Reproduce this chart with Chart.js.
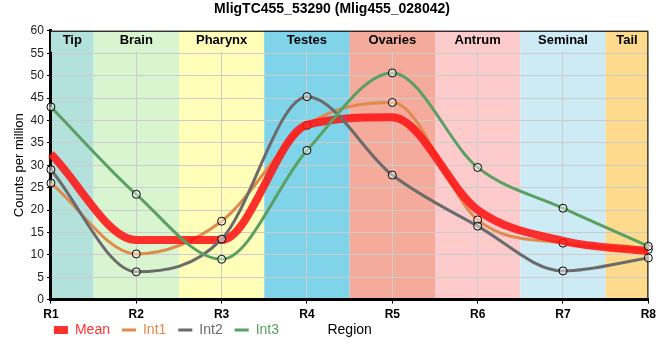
<!DOCTYPE html>
<html>
<head>
<meta charset="utf-8">
<script src="https://cdn.jsdelivr.net/npm/chart.js@4/dist/chart.umd.min.js"></script>
<style>
  html, body { margin: 0; padding: 0; background: #fff; }
  #wrap { width: 660px; height: 360px; }
</style>
</head>
<body>
<div id="wrap"><canvas id="regionChart" width="660" height="360"></canvas></div>
<script>
// values
const regions = ['R1', 'R2', 'R3', 'R4', 'R5', 'R6', 'R7', 'R8'];
const meanVals = [32.5, 13.3, 13.3, 39.0, 40.7, 20.0, 13.1, 10.8];
const int1Vals = [26.0, 10.2, 17.5, 38.9, 44.0, 17.8, 12.6, 11.2];
const int2Vals = [29.0, 6.2, 13.5, 45.3, 27.8, 16.4, 6.4, 9.3];
const int3Vals = [43.0, 23.5, 9.0, 33.3, 50.6, 29.5, 20.4, 11.9];

// tissue bands, one per region
const bandNames = ['Tip', 'Brain', 'Pharynx', 'Testes', 'Ovaries', 'Antrum', 'Seminal', 'Tail'];
const bandColors = ['#b3e2dd', '#d9f5d0', '#fefeb8', '#80d4ea', '#f4ab9c', '#fdcbcb', '#cdebf5', '#fdda8c'];

const xTitle = 'Region';
const font = "'Liberation Sans', Arial, sans-serif";

const bandPlugin = {
	id: 'bands',
	afterUpdate(chart) {
		// pull the legend up onto the same row as the axis title
		const lg = chart.legend;
		const dy = 15, dx = 9;
		lg.top -= dy;
		lg.bottom -= dy;
		lg.left -= dx;
		lg.right -= dx;
		lg.legendHitBoxes.forEach(h => {
			h.top -= dy;
			h.left -= dx;
		});
	},
	beforeDraw(chart) {
		const { ctx, chartArea: a, scales: { x } } = chart;
		ctx.save();
		bandNames.forEach((name, i) => {
			let x0 = Math.max(x.getPixelForValue(i - 0.5), a.left);
			let x1 = Math.min(x.getPixelForValue(i + 0.5), a.right);
			ctx.fillStyle = bandColors[i];
			ctx.fillRect(x0, a.top, x1 - x0, a.bottom - a.top);
		});
		ctx.restore();
	},
	beforeDatasetsDraw(chart) {
		const { ctx, chartArea: a, scales: { x } } = chart;
		ctx.save();
		// label strip covers the grid at the top
		bandNames.forEach((name, i) => {
			let x0 = Math.max(x.getPixelForValue(i - 0.5), a.left);
			let x1 = Math.min(x.getPixelForValue(i + 0.5), a.right);
			ctx.fillStyle = bandColors[i];
			ctx.fillRect(x0, a.top, x1 - x0, 21);
			ctx.fillStyle = '#000';
			ctx.font = 'bold 13px ' + font;
			ctx.textAlign = 'center';
			ctx.textBaseline = 'middle';
			ctx.fillText(name, (x0 + x1) / 2, a.top + 10);
		});
		// thin frame on top and right
		ctx.strokeStyle = '#000';
		ctx.lineWidth = 1;
		ctx.beginPath();
		ctx.moveTo(a.left, a.top + 0.5);
		ctx.lineTo(a.right - 0.5, a.top + 0.5);
		ctx.lineTo(a.right - 0.5, a.bottom);
		ctx.stroke();
		ctx.restore();
	},
	afterDraw(chart) {
		// x axis title sits on the legend row
		const { ctx, chartArea: a } = chart;
		const box = chart.legend.legendHitBoxes[0];
		if (!box) return;
		ctx.save();
		ctx.fillStyle = '#000';
		ctx.font = '14px ' + font;
		ctx.textAlign = 'center';
		ctx.textBaseline = 'middle';
		ctx.fillText(xTitle, (a.left + a.right) / 2, box.top + box.height / 2);
		ctx.restore();
	}
};

const markerFill = 'rgba(255,255,255,0.45)';

function intSet(label, data, color, order) {
	return {
		label: label,
		data: data,
		borderColor: color,
		backgroundColor: color,
		borderWidth: 3,
		cubicInterpolationMode: 'monotone',
		pointRadius: 4,
		pointBorderColor: '#000',
		pointBackgroundColor: markerFill,
		pointBorderWidth: 1,
		clip: false,
		order: order
	};
}

new Chart(
	document.getElementById('regionChart'),
	{
		type: 'line',
		data: {
			labels: regions,
			datasets: [
				{
					label: 'Mean',
					data: meanVals,
					borderColor: 'rgba(255,20,20,0.88)',
					backgroundColor: 'rgba(255,20,20,0.88)',
					borderWidth: 8,
					cubicInterpolationMode: 'monotone',
					pointRadius: 0,
					clip: false,
					order: 2
				},
				intSet('Int1', int1Vals, '#e08a4c', 3),
				intSet('Int2', int2Vals, '#6b6b6b', 1),
				intSet('Int3', int3Vals, '#5b9f63', 0)
			]
		},
		plugins: [bandPlugin],
		options: {
			responsive: false,
			maintainAspectRatio: false,
			animation: false,
			layout: { padding: { left: 12, right: 8, top: 0, bottom: -2 } },
			plugins: {
				title: {
					display: true,
					text: 'MligTC455_53290 (Mlig455_028042)',
					color: '#000',
					font: { family: font, size: 14, weight: 'bold' },
					padding: { top: 1, bottom: 13 }
				},
				tooltip: { enabled: false },
				legend: {
					position: 'bottom',
					align: 'start',
					fullSize: false,
					labels: {
						usePointStyle: true,
						pointStyle: 'line',
						pointStyleWidth: 14,
						padding: 12,
						font: { family: font, size: 14 },
						sort: (a, b) => a.datasetIndex - b.datasetIndex,
						generateLabels(chart) {
							const items = Chart.defaults.plugins.legend.labels.generateLabels(chart);
							items.forEach(it => {
								const ds = chart.data.datasets[it.datasetIndex];
								it.fontColor = ds.borderColor;
								it.strokeStyle = ds.borderColor;
								it.fillStyle = ds.borderColor;
								it.lineWidth = ds.borderWidth;
								it.pointStyle = 'line';
							});
							return items;
						}
					}
				}
			},
			scales: {
				x: {
					type: 'category',
					offset: false,
					grid: { color: '#cccccc', tickColor: '#000', tickLength: 4 },
					border: { color: '#000', width: 3 },
					ticks: { color: '#000', font: { family: font, size: 12, weight: 'bold' }, padding: 4 }
				},
				y: {
					min: 0,
					max: 60,
					ticks: { stepSize: 5, color: '#222', font: { family: font, size: 12 }, padding: 3 },
					grid: { color: '#cccccc', tickColor: '#000', tickLength: 4 },
					border: { color: '#000', width: 3 },
					title: {
						display: true,
						text: 'Counts per million',
						color: '#000',
						font: { family: font, size: 13 },
						padding: { top: 0, bottom: 0 }
					}
				}
			}
		}
	}
);
</script>
</body>
</html>
